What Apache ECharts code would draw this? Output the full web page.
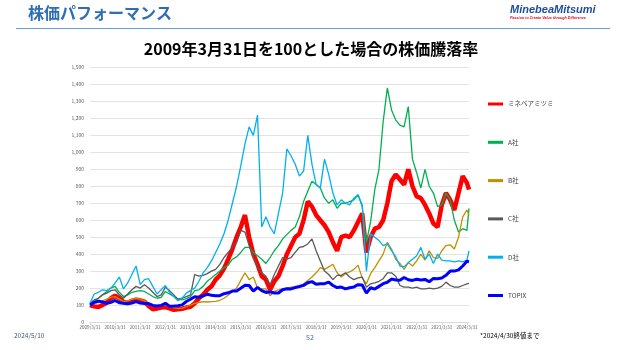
<!DOCTYPE html>
<html><head><meta charset="utf-8">
<script src="https://cdn.jsdelivr.net/npm/echarts@6/dist/echarts.min.js"></script>
<style>html,body{margin:0;padding:0;background:#fff;}#c{width:622px;height:350px;}</style>
</head><body><div id="c"></div>
<script>
// months since 2009/3/31
const months = [0,2,4,6,8,10,12,14,16,18,20,22,24,26,28,30,32,34,36,38,40,42,44,46,48,50,52,54,56,58,60,62,64,66,68,70,72,74,76,78,80,82,84,86,88,90,92,94,96,98,100,102,104,106,108,110,112,114,116,118,120,122,124,126,128,130,132,134,136,138,140,142,144,146,148,150,152,154,156,158,160,162,164,166,168,170,172,174,176,178,180,181];

const minebea = [100,92,88,100,115,140,155,140,118,112,
125,132,128,120,95,75,80,85,88,80,
72,75,78,85,90,110,140,160,190,210,
250,275,315,370,430,500,560,630,500,400,
340,270,250,190,240,270,330,400,450,500,
520,600,710,680,630,600,570,530,470,420,
500,510,500,540,590,640,410,500,550,560,
600,700,830,870,840,810,900,800,740,730,
690,640,580,560,690,760,720,660,760,860,
820,780];

const companyA = [100,120,140,160,180,200,210,175,150,160,
175,180,185,180,165,150,140,145,180,165,
150,135,130,138,150,185,190,210,240,260,
280,300,320,335,370,384,410,440,440,410,
390,370,345,380,420,450,490,515,540,560,
620,710,770,830,810,790,730,700,720,670,
700,700,710,720,750,680,470,590,780,900,
1180,1380,1250,1190,1160,1150,1270,960,880,790,
900,800,760,680,690,760,720,600,530,550,
540,670];

const companyB = [100,110,115,125,135,145,150,135,120,125,
135,140,135,125,105,90,95,100,100,92,
85,80,82,90,100,110,115,120,118,120,
122,128,140,158,180,200,245,290,250,265,
200,195,195,155,180,190,195,200,205,208,
210,225,245,265,290,320,310,325,340,290,
265,285,295,310,335,260,225,285,320,360,
400,470,430,370,345,310,350,330,360,400,
365,420,380,375,420,450,455,430,500,620,
660,630];

const companyC = [110,130,140,160,170,185,190,160,140,165,
190,210,200,220,200,175,150,160,205,185,
160,135,140,150,160,280,270,275,285,300,
310,340,380,410,440,470,540,530,450,380,
330,290,270,220,280,330,380,370,380,410,
440,445,460,490,420,360,300,280,250,275,
275,290,265,250,260,265,205,225,230,240,
255,290,290,270,215,205,205,200,205,195,
195,200,195,200,210,235,215,205,205,215,
225,228];

const companyD = [110,165,175,190,185,200,230,265,195,230,
280,330,220,250,255,210,165,190,215,175,
150,125,140,170,185,200,240,290,320,360,
410,460,520,600,700,800,920,1050,1150,1100,
1220,560,620,560,520,640,760,1020,980,930,
860,890,1100,930,810,790,960,870,760,690,
720,700,690,730,750,690,300,520,500,480,
450,460,420,385,330,325,350,370,390,440,
370,400,345,400,365,360,360,355,360,355,
365,420];

const topix = [100,116,123,118,110,116,127,114,110,107,
112,120,112,109,109,98,94,98,110,93,
94,96,101,121,134,149,146,154,163,158,
155,155,167,172,182,183,199,216,215,182,
204,185,174,178,171,171,190,196,195,203,
209,216,231,238,222,226,226,235,215,203,
206,195,202,206,220,218,170,202,194,210,
226,234,253,248,246,262,249,245,252,247,
251,237,257,255,259,275,300,300,307,330,
358,355];

const seriesNames = ['ミネベアミツミ','A社','B社','C社','D社','TOPIX'];
const xTickLabels = ['2009/3/31','2010/3/31','2011/3/31','2012/3/31','2013/3/31','2014/3/31','2015/3/31','2016/3/31','2017/3/31','2018/3/31','2019/3/31','2020/3/31','2021/3/31','2022/3/31','2023/3/31','2024/3/31'];

const seriesValues = [minebea, companyA, companyB, companyC, companyD, topix];
const colors = ['#ff0000','#00b050','#bf9000','#595959','#00b0f0','#0000ff'];
const widths = [4.5, 1.3, 1.3, 1.3, 1.3, 3];
const FONT = '"Noto Sans CJK JP", "Liberation Sans", sans-serif';

const chart = echarts.init(document.getElementById('c'), null, {renderer: 'canvas'});
chart.setOption({
  animation: false,
  backgroundColor: '#ffffff',
  textStyle: {fontFamily: FONT},
  title: {
    text: '2009年3月31日を100とした場合の株価騰落率',
    left: 'center', top: 36,
    textStyle: {fontSize: 16, fontWeight: 'bold', color: '#000', fontFamily: FONT}
  },
  graphic: [
    {type: 'text', left: 28, top: 5, style: {text: '株価パフォーマンス', font: 'bold 16px "Noto Sans CJK JP"', fill: '#2f6eb5'}},
    {type: 'text', left: 510, top: 4, style: {text: 'MinebeaMitsumi', font: 'italic bold 11px "Liberation Sans"', fill: '#1c4fa0'}},
    {type: 'text', left: 510, top: 16, style: {text: 'Passion to Create Value through Difference', font: 'italic bold 3.7px "Liberation Sans"', fill: '#e60012'}},
    {type: 'line', shape: {x1: 16, y1: 28.5, x2: 610, y2: 28.5}, style: {stroke: '#6a9fd8', lineWidth: 1}},
    {type: 'text', left: 14, top: 332, style: {text: '2024/5/10', font: '6.5px "Noto Sans CJK JP"', fill: '#44546a'}},
    {type: 'text', left: 306, top: 334, style: {text: '52', font: '7px "Noto Sans CJK JP"', fill: '#2e75b6'}},
    {type: 'text', left: 480, top: 332, style: {text: '*2024/4/30終値まで', font: '6.5px "Noto Sans CJK JP"', fill: '#000'}}
  ],
  legend: {
    data: seriesNames,
    orient: 'vertical',
    left: 488, top: 100,
    padding: 0,
    itemWidth: 15, itemHeight: 3,
    itemGap: 30.3,
    icon: 'rect',
    textStyle: {fontSize: 6.5, color: '#404040', fontFamily: FONT, lineHeight: 8}
  },
  grid: {left: 90, right: 153, top: 67.5, bottom: 28, containLabel: false},
  xAxis: {
    type: 'value', min: 0, max: 181, interval: 12,
    axisLine: {show: true, lineStyle: {color: '#d9d9d9', width: 1}},
    axisTick: {show: true, length: 3, lineStyle: {color: '#d9d9d9'}},
    splitLine: {show: false},
    axisLabel: {
      fontSize: 4.5, color: '#595959', margin: 3, showMaxLabel: false,
      formatter: v => (v % 12 === 0 ? xTickLabels[v / 12] : '')
    }
  },
  yAxis: {
    type: 'value', min: 0, max: 1500, interval: 100,
    axisLine: {show: false}, axisTick: {show: false},
    splitLine: {lineStyle: {color: '#e3e3e3', width: 1}},
    axisLabel: {fontSize: 5, color: '#595959', margin: 6,
      formatter: v => v.toLocaleString('en-US')}
  },
  series: seriesNames.map((n, i) => ({
    name: n, type: 'line', symbol: 'none', showSymbol: false,
    color: colors[i],
    lineStyle: {color: colors[i], width: widths[i]},
    data: months.map((m, j) => [m, seriesValues[i][j]])
  }))
});
</script></body></html>
